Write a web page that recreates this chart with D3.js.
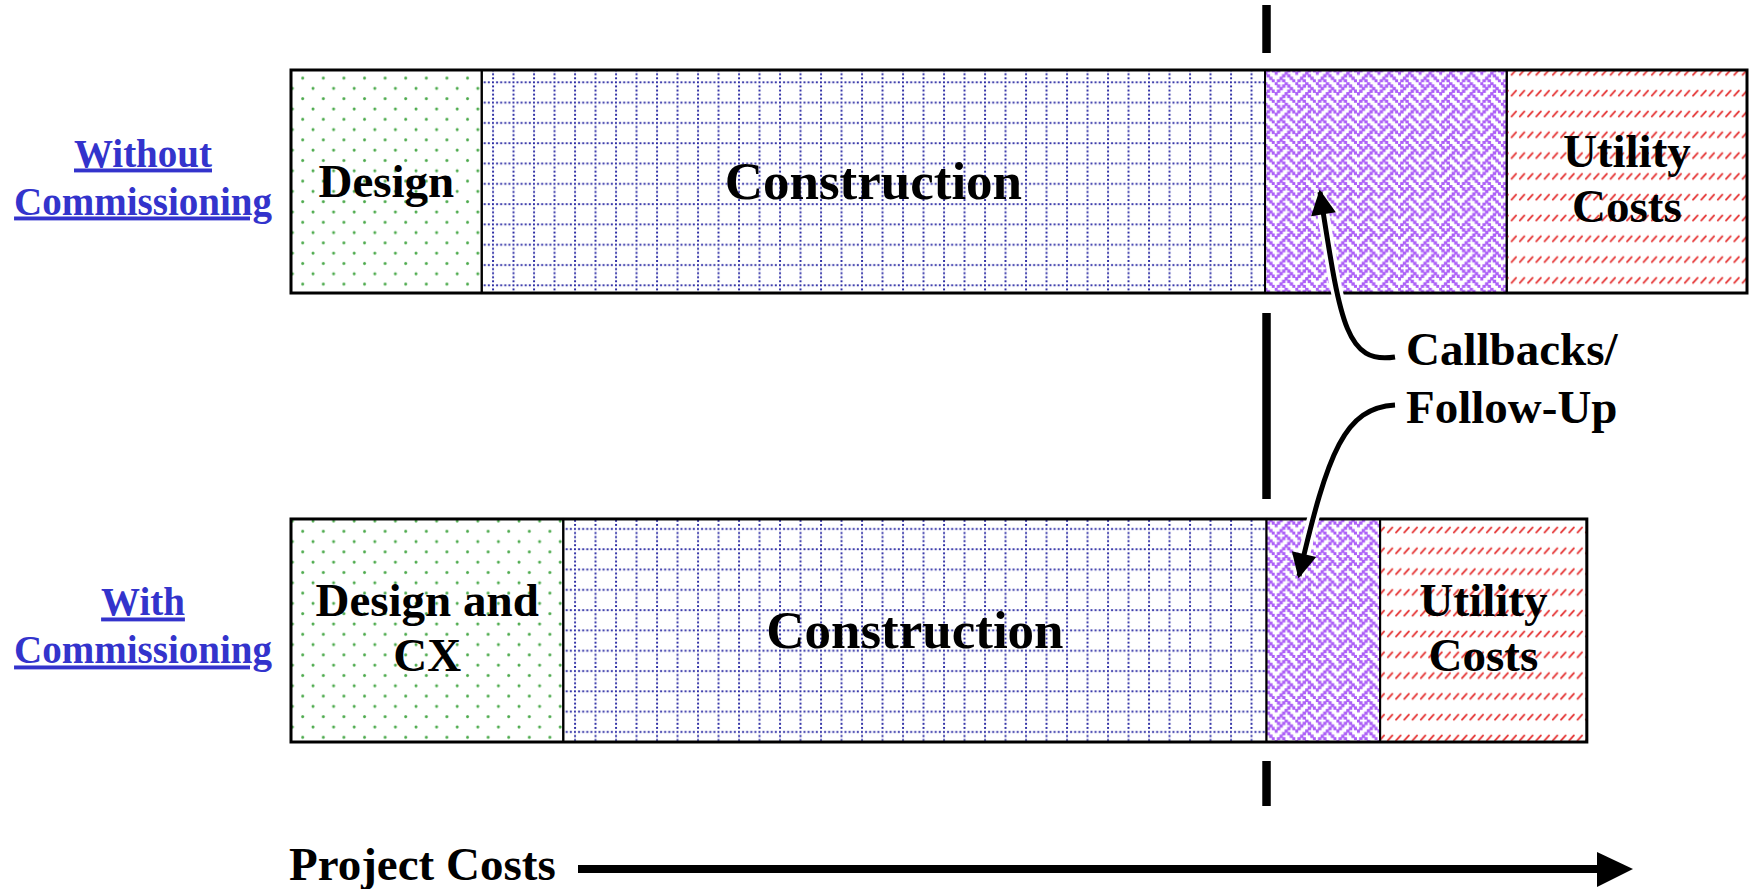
<!DOCTYPE html>
<html>
<head>
<meta charset="utf-8">
<script src="https://cdn.jsdelivr.net/npm/d3@7"></script>
<style>
  body { margin: 0; background: #fff; }
  svg { display: block; }
  text { font-family: "Liberation Serif", "Times New Roman", serif; font-weight: bold; }
</style>
</head>
<body>
<div class="chart-container"></div>
<script>
var width = 1754;
var height = 889;

// data
var scenarios = ["Without Commissioning", "With Commissioning"];
var scenarioLines = [["Without", "Commissioning"], ["With", "Commissioning"]];
var phases = ["design", "construction", "callbacks", "utility"];
var costsWithout = [13.1, 53.8, 16.6, 16.5];
var costsWith = [18.7, 48.3, 7.8, 14.2];
var labelsWithout = [["Design"], ["Construction"], [], ["Utility", "Costs"]];
var labelsWith = [["Design and", "CX"], ["Construction"], [], ["Utility", "Costs"]];
var cutoff = 67; // end of construction in both cases
var calloutLines = ["Callbacks/", "Follow-Up"];
var axisTitle = "Project Costs";

var x = d3.scaleLinear().domain([0, 100]).range([291, 1747]);
var y = d3.scaleBand().domain(scenarios).range([70, 742]).paddingInner(0.5033);

var svg = d3
  .select(".chart-container")
  .append("svg")
  .attr("width", width)
  .attr("height", height);

var defs = svg.append("defs");

// green dots (design)
var pDots = defs.append("pattern")
  .attr("id", "p-design")
  .attr("patternUnits", "userSpaceOnUse")
  .attr("width", 20.6).attr("height", 20.6);
pDots.append("circle").attr("cx", 4).attr("cy", 6).attr("r", 1.5).attr("fill", "#4caa4c");
pDots.append("circle").attr("cx", 14.3).attr("cy", 16.3).attr("r", 1.5).attr("fill", "#4caa4c");

// dotted blue grid (construction)
var pGrid = defs.append("pattern")
  .attr("id", "p-construction")
  .attr("patternUnits", "userSpaceOnUse")
  .attr("width", 20.5).attr("height", 20.3);
d3.range(5).forEach(function (i) {
  pGrid.append("rect").attr("x", i * 4.1).attr("y", 0.2).attr("width", 1.9).attr("height", 1.9).attr("fill", "#2424a0");
  if (i > 0) pGrid.append("rect").attr("x", 0.1).attr("y", 0.2 + i * 4.06).attr("width", 1.9).attr("height", 1.9).attr("fill", "#2424a0");
});

// purple weave (callbacks)
var weave = [0x88, 0x54, 0x22, 0x45, 0x88, 0x14, 0x22, 0x51];
var cell = 2.57;
var pWeave = defs.append("pattern")
  .attr("id", "p-callbacks")
  .attr("patternUnits", "userSpaceOnUse")
  .attr("width", cell * 8).attr("height", cell * 8);
pWeave.append("rect").attr("width", cell * 8).attr("height", cell * 8).attr("fill", "#fff");
weave.forEach(function (bits, r) {
  for (var c = 0; c < 8; c++) {
    if (bits & (0x80 >> c)) {
      pWeave.append("rect")
        .attr("x", c * cell - 0.4).attr("y", r * cell - 0.4)
        .attr("width", cell + 0.8).attr("height", cell + 0.8)
        .attr("fill", "#ac5ff7");
    }
  }
});

// red slashes (utility)
var pSlash = defs.append("pattern")
  .attr("id", "p-utility")
  .attr("patternUnits", "userSpaceOnUse")
  .attr("width", 8.25).attr("height", 20.8);
pSlash.append("line")
  .attr("x1", 1.8).attr("y1", 12.5).attr("x2", 6.3).attr("y2", 7.5)
  .attr("stroke", "#e53a3a").attr("stroke-width", 1.9).attr("stroke-linecap", "round");

var arrowHead = defs.append("marker")
  .attr("id", "head")
  .attr("viewBox", "0 0 10 10")
  .attr("refX", 9).attr("refY", 5)
  .attr("markerWidth", 6).attr("markerHeight", 5)
  .attr("markerUnits", "strokeWidth")
  .attr("orient", "auto");
arrowHead.append("path").attr("d", "M0,0 L10,5 L0,10 Z").attr("fill", "#000");

// dashed cut-off line, drawn in the gaps around the bars
var xc = x(cutoff);
var b = y.bandwidth();
var dashSegs = [
  [5, y(scenarios[0]) - 17],
  [y(scenarios[0]) + b + 20, y(scenarios[1]) - 20],
  [y(scenarios[1]) + b + 19, y(scenarios[1]) + b + 64]
];
svg.selectAll(".cut")
  .data(dashSegs)
  .enter()
  .append("line")
  .attr("class", "cut")
  .attr("x1", xc).attr("x2", xc)
  .attr("y1", function (d) { return d[0]; })
  .attr("y2", function (d) { return d[1]; })
  .attr("stroke", "#000")
  .attr("stroke-width", 8.5);

const drawBar = (name, costs, labels, rowIdx) => {
  var starts = d3.cumsum([0].concat(costs));
  var segs = costs.map(function (v, i) {
    return { phase: phases[i], x0: starts[i], x1: starts[i] + v, lines: labels[i] };
  });
  var g = svg.append("g").attr("class", "bar-" + rowIdx);
  var top = y(name);

  g.selectAll("rect.seg")
    .data(segs)
    .enter()
    .append("rect")
    .attr("class", "seg")
    .attr("x", function (d) { return x(d.x0); })
    .attr("y", top)
    .attr("width", function (d) { return x(d.x1) - x(d.x0); })
    .attr("height", b)
    .attr("fill", function (d) { return "url(#p-" + d.phase + ")"; })
    .attr("stroke", "#000")
    .attr("stroke-width", 2);

  g.append("rect")
    .attr("x", x(0))
    .attr("y", top)
    .attr("width", x(d3.sum(costs)) - x(0))
    .attr("height", b)
    .attr("fill", "none")
    .attr("stroke", "#000")
    .attr("stroke-width", 3);

  segs.forEach(function (d) {
    if (!d.lines.length) return;
    var size = d.phase == "construction" ? 53 : 47;
    var lh = 55;
    var cx = (x(d.x0) + x(d.x1)) / 2;
    var cy = top + b / 2;
    var t = g.append("text")
      .attr("text-anchor", "middle")
      .attr("font-size", size)
      .attr("fill", "#000");
    d.lines.forEach(function (line, i) {
      t.append("tspan")
        .attr("x", cx)
        .attr("y", cy + size * 0.33 + (i - (d.lines.length - 1) / 2) * lh - (d.lines.length > 1 ? 3 : 0))
        .text(line);
    });
  });

  // row label on the left
  var lab = svg.append("text")
    .attr("text-anchor", "middle")
    .attr("font-size", 39)
    .attr("fill", "#3333cc")
    .style("text-decoration", "underline");
  scenarioLines[rowIdx].forEach(function (line, i) {
    lab.append("tspan")
      .attr("x", 143)
      .attr("y", top + b / 2 - 15 + i * 48)
      .text(line);
  });
};

drawBar(scenarios[0], costsWithout, labelsWithout, 0);
drawBar(scenarios[1], costsWith, labelsWith, 1);

// callout arrows
var curves = [
  "M1395,357 C1345,365 1340,320 1320,192",
  "M1395,405 C1345,408 1328,450 1299,576"
];
svg.selectAll(".halo")
  .data(curves)
  .enter()
  .append("path")
  .attr("d", function (d) { return d; })
  .attr("fill", "none")
  .attr("stroke", "#fff")
  .attr("stroke-width", 12);
svg.selectAll(".callout")
  .data(curves)
  .enter()
  .append("path")
  .attr("class", "callout")
  .attr("d", function (d) { return d; })
  .attr("fill", "none")
  .attr("stroke", "#000")
  .attr("stroke-width", 5)
  .attr("marker-end", "url(#head)");

var callout = svg.append("text").attr("font-size", 47).attr("fill", "#000");
calloutLines.forEach(function (line, i) {
  callout.append("tspan").attr("x", 1406).attr("y", 365 + i * 58).text(line);
});

// axis title and arrow
svg.append("text")
  .attr("x", x(0) - 2)
  .attr("y", 880)
  .attr("font-size", 47)
  .attr("fill", "#000")
  .text(axisTitle);

svg.append("line")
  .attr("x1", 578).attr("x2", 1600)
  .attr("y1", 869).attr("y2", 869)
  .attr("stroke", "#000")
  .attr("stroke-width", 8);
svg.append("path")
  .attr("d", "M1597,852 L1633,869 L1597,887 Z")
  .attr("fill", "#000");
</script>
</body>
</html>
